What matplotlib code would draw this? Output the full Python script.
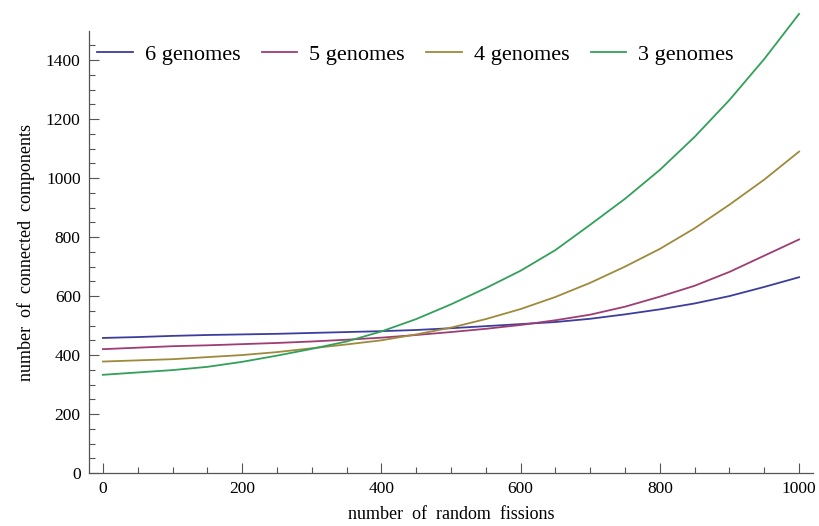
"""
Connected components vs number of random fissions, for 3-6 genomes.
"""

# Imports
import matplotlib
matplotlib.use('Agg')
import matplotlib.pyplot as plt
from matplotlib.ticker import MultipleLocator

# Values, one point every 50 fissions
fissions = [0, 50, 100, 150, 200, 250, 300, 350, 400, 450, 500,
            550, 600, 650, 700, 750, 800, 850, 900, 950, 1000]

six_genomes = [458, 461, 465, 468, 470, 472, 475, 478, 481, 485, 491,
               498, 505, 512, 523, 538, 555, 575, 600, 631, 664]
five_genomes = [420, 425, 430, 433, 437, 441, 446, 452, 459, 468, 478,
                489, 502, 518, 537, 564, 598, 635, 682, 737, 792]
four_genomes = [378, 382, 386, 393, 400, 410, 423, 436, 450, 470, 493,
                522, 556, 597, 645, 700, 760, 830, 910, 995, 1090]
three_genomes = [333, 341, 349, 360, 377, 398, 421, 446, 480, 522, 572,
                 627, 686, 756, 842, 930, 1028, 1140, 1265, 1404, 1557]

labels = ['6 genomes', '5 genomes', '4 genomes', '3 genomes']
colors = ['#3d3d9e', '#9e3d72', '#9e8a3d', '#33a05a']

plt.rcParams['font.family'] = ['Liberation Serif', 'DejaVu Serif']


def make_plot():
    """
    Draw the four curves in a Mathematica-like style.
    """
    fig = plt.figure(figsize=(8.19, 5.26), dpi=100)
    ax = fig.add_axes([89 / 819, 53 / 526, 724 / 819, 460 / 526])

    series = [six_genomes, five_genomes, four_genomes, three_genomes]
    for vals, lab, col in zip(series, labels, colors):
        ax.plot(fissions, vals, color=col, lw=1.3, label=lab, clip_on=False)

    ax.set_xlim(-20, 1020)
    ax.set_ylim(0, 1560)

    # axes only on left and bottom, like Mathematica
    for side in ['top', 'right']:
        ax.spines[side].set_visible(False)
    ax.spines['left'].set_bounds(0, 1500)
    for side in ['left', 'bottom']:
        ax.spines[side].set_color('#555555')
        ax.spines[side].set_linewidth(0.9)

    ax.xaxis.set_major_locator(MultipleLocator(200))
    ax.xaxis.set_minor_locator(MultipleLocator(50))
    ax.yaxis.set_major_locator(MultipleLocator(200))
    ax.yaxis.set_minor_locator(MultipleLocator(50))
    ax.set_xticks([0, 200, 400, 600, 800, 1000])
    ax.set_yticks([0, 200, 400, 600, 800, 1000, 1200, 1400])
    ax.set_yticks([v for v in range(50, 1500, 50) if v % 200], minor=True)

    ax.tick_params(which='both', direction='in', color='#555555', width=0.8,
                   labelsize=12.5, labelcolor='black')
    ax.tick_params(which='major', length=7, pad=6)
    ax.tick_params(which='minor', length=4)

    ax.set_xlabel('number  of  random  fissions', fontsize=13, labelpad=6)
    ax.set_ylabel('number  of  connected  components', fontsize=13)
    ax.yaxis.set_label_coords(-0.075, 0.48)

    fig.legend(loc='center left', bbox_to_anchor=(97 / 819, 1 - 55 / 526),
               ncol=4, frameon=False, fontsize=16, borderpad=0,
               borderaxespad=0, handlelength=1.6, handletextpad=0.55,
               columnspacing=0.95)

    fig.savefig('out.png', dpi=100)


make_plot()
